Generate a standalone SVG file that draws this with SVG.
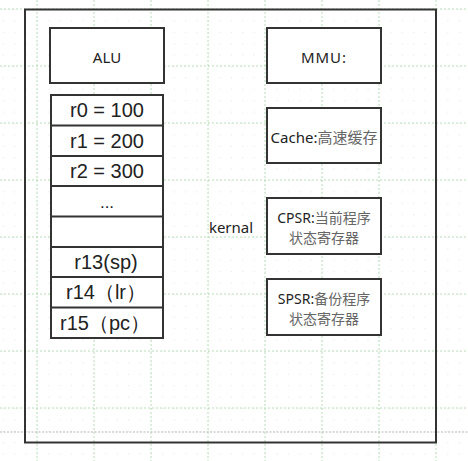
<svg xmlns="http://www.w3.org/2000/svg" width="468" height="461" viewBox="0 0 468 461">
<style>
.grid{stroke:#b9dcb9;stroke-width:1;stroke-dasharray:2,2;fill:none}
.box{fill:#fff;stroke:#333;stroke-width:2}
.sep{stroke:#333;stroke-width:2}
.reg{font-family:"Liberation Sans",Arial,sans-serif;font-size:20px;fill:#222;text-anchor:middle}
.lbl{font-family:"Noto Sans","Open Sans",sans-serif;font-size:15px;fill:#222;text-anchor:middle}
.two{font-size:14px}
.cjk{font-family:"Noto Sans CJK SC",sans-serif;fill:#666}
</style>
<defs>
<pattern id="dots" patternUnits="userSpaceOnUse" x="37" y="9" width="11.4" height="11.4">
<rect x="0" y="0" width="1" height="1" fill="#e2e2e2"/>
</pattern>
</defs>
<rect x="0" y="0" width="468" height="461" fill="#fff"/>
<rect x="0" y="0" width="468" height="461" fill="url(#dots)"/>
<g id="grid">
<path class="grid" d="M37,0V461M94,0V461M151,0V461M208,0V461M265,0V461M322,0V461M379,0V461M436,0V461M0,9H468M0,66H468M0,123H468M0,180H468M0,237H468M0,294H468M0,351H468M0,408H468"/>
<path d="M0,432H468" stroke="#b5b5b5" stroke-width="1" stroke-dasharray="2,1.5"/>
</g>
<g id="frame"><rect x="25" y="9.5" width="411" height="433" fill="none" stroke="#333" stroke-width="2"/></g>
<g id="alu"><rect class="box" x="50" y="28" width="114" height="55"/><text class="lbl" x="107" y="63">ALU</text></g>
<g id="registers">
<rect class="box" x="51" y="95" width="112" height="243"/>
<path class="sep" d="M51,125.5H163M51,156H163M51,186H163M51,216.5H163M51,247H163M51,277H163M51,307.5H163"/>
<text class="reg" x="107" y="117">r0 = 100</text>
<text class="reg" x="107" y="147.5">r1 = 200</text>
<text class="reg" x="107" y="178">r2 = 300</text>
<text class="reg" x="107" y="208" style="font-size:17px">...</text>
<text class="reg" x="106" y="269">r13(sp)</text>
<text class="reg" x="106" y="299">r14（lr）</text>
<text class="reg" x="105" y="329.5">r15（pc）</text>
</g>
<g id="mmu"><rect class="box" x="267" y="28" width="114" height="55"/><text class="lbl" x="324" y="63" style="letter-spacing:1px">MMU:</text></g>
<g id="cache"><rect class="box" x="267" y="108" width="114" height="55"/><text class="lbl" x="324" y="143">Cache:<tspan class="cjk">高速缓存</tspan></text></g>
<g id="cpsr"><rect class="box" x="267" y="198" width="114" height="56"/><text class="lbl two" x="324" y="222.5">CPSR:<tspan class="cjk">当前程序</tspan></text><text class="lbl two cjk" x="324" y="243">状态寄存器</text></g>
<g id="spsr"><rect class="box" x="267" y="279" width="114" height="56"/><text class="lbl two" x="324" y="303.5">SPSR:<tspan class="cjk">备份程序</tspan></text><text class="lbl two cjk" x="324" y="324">状态寄存器</text></g>
<g id="kernal"><text class="lbl" x="231" y="233">kernal</text></g>
<g id="connectors"></g>
</svg>
